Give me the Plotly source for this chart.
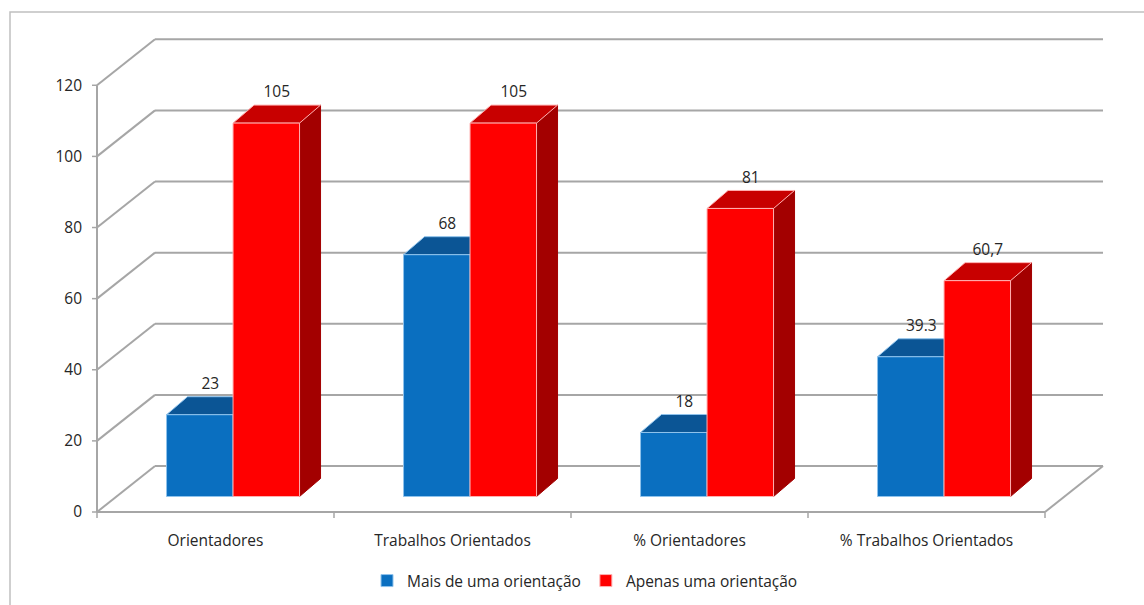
import plotly.graph_objects as go

# ---- data ----
categories = ["Orientadores", "Trabalhos Orientados", "% Orientadores", "% Trabalhos Orientados"]
series_names = ["Mais de uma orientação", "Apenas uma orientação"]
mais_values = [23, 68, 18, 39.3]
apenas_values = [105, 105, 81, 60.7]
mais_labels = ["23", "68", "18", "39.3"]
apenas_labels = ["105", "105", "81", "60,7"]
y_ticks = [0, 20, 40, 60, 80, 100, 120]

# ---- geometry (in axis units) ----
PX_X = 237.0          # px per category
PX_Y = 3.556          # px per value unit
L, R, T, B = 90, 34, 30, 85
W, H = 1144, 605
x_lo = -0.5 - (97 - L) / PX_X
x_hi = x_lo + (W - L - R) / PX_X
y_lo = -(H - B - 512) / PX_Y
y_hi = y_lo + (H - T - B) / PX_Y

DXW = 58 / PX_X       # wall depth in x
DYW = 46 / PX_Y       # wall depth in y
BASE = 15.5 / PX_Y    # bar plane base
SX = BASE / DYW * DXW - 2 / PX_X
BW = 66.5 / PX_X      # bar width
DDX = 21 / PX_X       # bar depth x
DDY = 18 / PX_Y       # bar depth y
LBL = 4 / PX_Y        # label lift

GRID = "#a6a6a6"
BLUE, BLUE_TOP, BLUE_SIDE = "#0a6fc0", "#0b5595", "#084a85"
RED, RED_TOP, RED_SIDE = "#ff0000", "#c80000", "#a30000"
FONT = "Open Sans"
FS = 15.5
TXT = "#262626"

n = len(categories)
xf0, xf1 = -0.5, n - 0.5

shapes = []
def line(x0, y0, x1, y1, w=2, c=GRID):
    shapes.append(dict(type="line", xref="x", yref="y", x0=x0, y0=y0, x1=x1, y1=y1,
                       line=dict(color=c, width=w), layer="below"))

# back wall gridlines + left wall diagonals
for v in y_ticks:
    line(xf0 + DXW, v + DYW, xf1 + DXW, v + DYW)
    line(xf0, v, xf0 + DXW, v + DYW)
    line(xf0 - 5 / PX_X, v, xf0, v, w=1.5)
# floor
line(xf0, 0, xf1, 0)
line(xf1, 0, xf1 + DXW, DYW)
# front y axis
line(xf0, 0, xf0, y_ticks[-1])
# category tick marks
for k in range(n + 1):
    line(xf0 + k, 0, xf0 + k, -6 / PX_Y, w=1.5)

def poly(pts, fill, edge):
    d = "M " + " L ".join(f"{px},{py}" for px, py in pts) + " Z"
    shapes.append(dict(type="path", xref="x", yref="y", path=d, fillcolor=fill,
                       line=dict(color=edge, width=1), layer="below"))

blue_x = [i + SX - BW / 2 for i in range(n)]
red_x = [i + SX + BW / 2 for i in range(n)]

for xs, vals, top_c, side_c, edge in [(blue_x, mais_values, BLUE_TOP, BLUE_SIDE, "#8fc3ec"),
                                       (red_x, apenas_values, RED_TOP, RED_SIDE, "#ffb0b0")]:
    for xc, v in zip(xs, vals):
        xl, xr = xc - BW / 2, xc + BW / 2
        top = BASE + v
        poly([(xr, BASE), (xr, top), (xr + DDX, top + DDY), (xr + DDX, BASE + DDY)], side_c, side_c)
        poly([(xl, top), (xr, top), (xr + DDX, top + DDY), (xl + DDX, top + DDY)], top_c, edge)

fig = go.Figure()
fig.add_trace(go.Bar(x=blue_x, y=mais_values, base=BASE, width=BW, name=series_names[0],
                     marker=dict(color=BLUE, line=dict(color="#8fc3ec", width=1))))
fig.add_trace(go.Bar(x=red_x, y=apenas_values, base=BASE, width=BW, name=series_names[1],
                     marker=dict(color=RED, line=dict(color="#ffb0b0", width=1))))

for xs, vals, labels in [(blue_x, mais_values, mais_labels), (red_x, apenas_values, apenas_labels)]:
    fig.add_trace(go.Scatter(x=[xc + DDX / 2 for xc in xs], y=[BASE + v + DDY + LBL for v in vals],
                             mode="text", text=labels, textposition="top center",
                             textfont=dict(family=FONT, size=FS, color=TXT),
                             showlegend=False, hoverinfo="skip", cliponaxis=False))

# outer border
px2x = lambda p: (p - L) / (W - L - R)
py2y = lambda p: (H - B - p) / (H - T - B)
shapes.append(dict(type="path", xref="paper", yref="paper",
                   path=f"M {px2x(10)},{py2y(700)} L {px2x(10)},{py2y(12)} L {px2x(1200)},{py2y(12)}",
                   line=dict(color="#c0c0c0", width=1.5), layer="below"))

fig.update_layout(
    width=W, height=H,
    margin=dict(l=L, r=R, t=T, b=B, autoexpand=False),
    paper_bgcolor="white", plot_bgcolor="white",
    barmode="overlay",
    shapes=shapes,
    font=dict(family=FONT, size=FS, color=TXT),
    xaxis=dict(range=[x_lo, x_hi], tickvals=list(range(n)), ticktext=categories,
               showgrid=False, zeroline=False, showline=False, ticks="", automargin=False,
               ticklabelstandoff=9, tickfont=dict(family=FONT, size=FS, color=TXT)),
    yaxis=dict(range=[y_lo, y_hi], tickvals=y_ticks, showgrid=False, zeroline=False,
               showline=False, ticks="", ticklabelstandoff=7, automargin=False,
               tickfont=dict(family=FONT, size=FS, color=TXT)),
    legend=dict(orientation="h", x=585 / W, xref="container", xanchor="center",
                y=1 - 581 / H, yref="container", yanchor="middle",
                font=dict(family=FONT, size=FS, color=TXT), itemwidth=30,
                bgcolor="rgba(0,0,0,0)"),
    showlegend=True,
)

fig.write_html("out.html")
